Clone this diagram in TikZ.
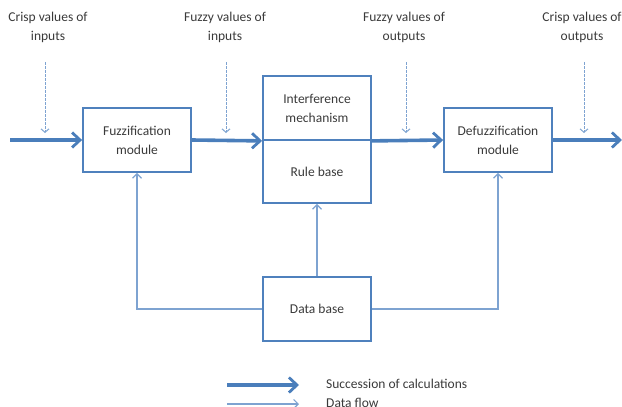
\documentclass[tikz,border=0pt]{standalone}
\usepackage{fontspec}
\setmainfont{Carlito}
\usetikzlibrary{arrows.meta}
\definecolor{boxblue}{HTML}{4F81BD}
\definecolor{flowblue}{HTML}{4A7EBB}
\definecolor{thinblue}{HTML}{7EA3D1}
\definecolor{txt}{HTML}{3A3A3A}
\begin{document}
\begin{tikzpicture}[x=1pt,y=-1pt,
  every node/.style={text=txt,font=\fontsize{13.5}{19}\selectfont},
  module/.style={draw=boxblue,line width=1.8pt,minimum width=108pt,inner sep=0pt,align=center},
  calc/.style={draw=flowblue,line width=3.6pt,-{Straight Barb[length=8pt,width=15pt,line width=2.8pt]}},
  dflow/.style={draw=thinblue,line width=1.5pt,-{Straight Barb[length=4.5pt,width=9pt,line width=1.2pt]}},
  hint/.style={draw=thinblue,line width=1pt,dash pattern=on 2.5pt off 1.5pt,-{Straight Barb[length=3.5pt,width=8pt,line width=1pt]}},
  caption/.style={align=center}]
\useasboundingbox (0,0) rectangle (622,407);

% processing modules
\node[module,minimum height=64pt] (fuzz) at (137,140) {Fuzzification\\module};
\node[module,minimum height=64pt] (inf) at (317,108) {Interference\\mechanism};
\node[module,minimum height=63pt] (rule) at (317,171.5) {Rule base};
\node[module,minimum height=64pt] (defuzz) at (498,140) {Defuzzification\\module};
\node[module,minimum height=64pt] (data) at (317,309) {Data base};

% main flow of calculations
\coordinate (in) at (10,140);
\coordinate (out) at (622,140);
\draw[calc] (in) -- (fuzz.west);
\draw[calc] (fuzz.east) -- (inf.south west);
\draw[calc] (inf.south east) -- (defuzz.west);
\draw[calc] (defuzz.east) -- (out);

% data flow from the data base
\draw[dflow] (data.north) -- (rule.south);
\draw[dflow] (data.west) -| (fuzz.south);
\draw[dflow] (data.east) -| (defuzz.south);

% value captions
\node[caption] (c1) at (48,27) {Crisp values of\\inputs};
\node[caption] (c2) at (225,27) {Fuzzy values of\\inputs};
\node[caption] (c3) at (404,27) {Fuzzy values of\\outputs};
\node[caption] (c4) at (582,27) {Crisp values of\\outputs};
\coordinate (h1a) at (45,62);  \coordinate (h1b) at (45,133);
\coordinate (h2a) at (226,62); \coordinate (h2b) at (226,133);
\coordinate (h3a) at (406,62); \coordinate (h3b) at (406,133);
\coordinate (h4a) at (584,62); \coordinate (h4b) at (584,133);
\draw[hint] (h1a) -- (h1b);
\draw[hint] (h2a) -- (h2b);
\draw[hint] (h3a) -- (h3b);
\draw[hint] (h4a) -- (h4b);

% legend
\coordinate (l1a) at (227,385); \coordinate (l1b) at (299,385);
\coordinate (l2a) at (227,404); \coordinate (l2b) at (299,404);
\draw[calc] (l1a) -- (l1b);
\draw[dflow] (l2a) -- (l2b);
\node[anchor=west,inner sep=0pt] (lt1) at (326,384) {Succession of calculations};
\node[anchor=west,inner sep=0pt] (lt2) at (326,403) {Data flow};
\end{tikzpicture}
\end{document}
